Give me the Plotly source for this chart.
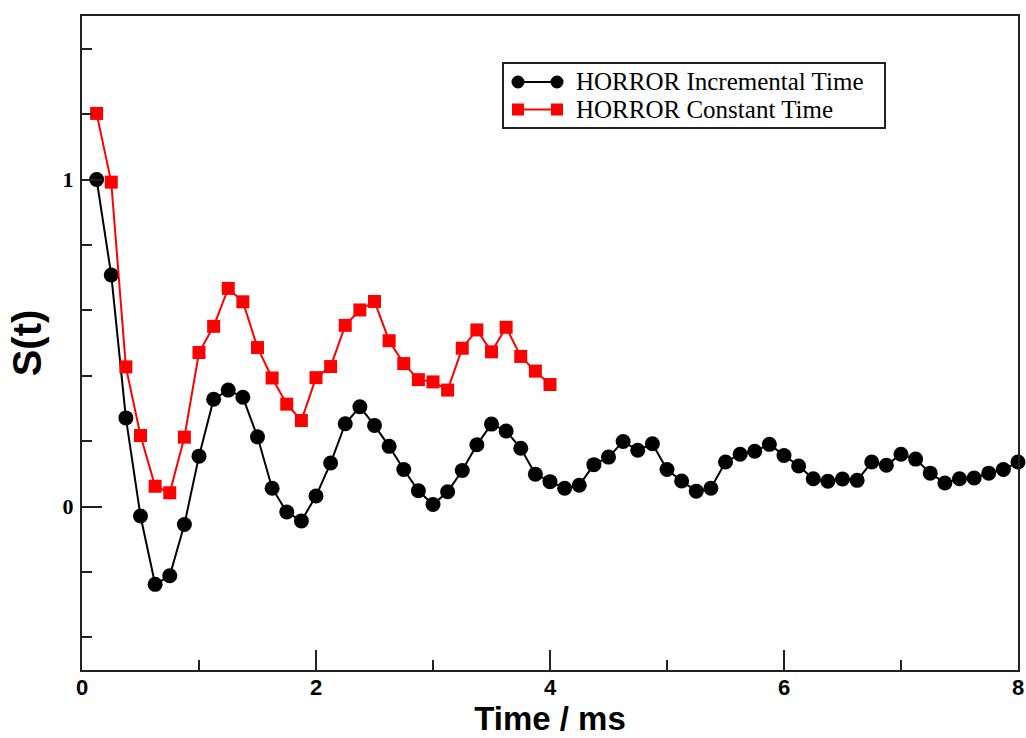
import plotly.graph_objects as go

time_incremental = [0.125, 0.25, 0.375, 0.5, 0.625, 0.75, 0.875, 1.0,
                    1.125, 1.25, 1.375, 1.5, 1.625, 1.75, 1.875, 2.0,
                    2.125, 2.25, 2.375, 2.5, 2.625, 2.75, 2.875, 3.0,
                    3.125, 3.25, 3.375, 3.5, 3.625, 3.75, 3.875, 4.0,
                    4.125, 4.25, 4.375, 4.5, 4.625, 4.75, 4.875, 5.0,
                    5.125, 5.25, 5.375, 5.5, 5.625, 5.75, 5.875, 6.0,
                    6.125, 6.25, 6.375, 6.5, 6.625, 6.75, 6.875, 7.0,
                    7.125, 7.25, 7.375, 7.5, 7.625, 7.75, 7.875, 8.0]
s_incremental = [1.000, 0.708, 0.271, -0.029, -0.238, -0.212, -0.055, 0.154,
                 0.328, 0.356, 0.334, 0.213, 0.056, -0.017, -0.044, 0.032,
                 0.133, 0.253, 0.305, 0.248, 0.184, 0.113, 0.048, 0.006,
                 0.045, 0.110, 0.189, 0.252, 0.231, 0.178, 0.099, 0.076,
                 0.056, 0.065, 0.128, 0.151, 0.199, 0.172, 0.192, 0.113,
                 0.078, 0.047, 0.056, 0.136, 0.160, 0.169, 0.190, 0.156,
                 0.124, 0.085, 0.077, 0.084, 0.080, 0.136, 0.126, 0.160,
                 0.145, 0.102, 0.072, 0.085, 0.087, 0.102, 0.113, 0.136]

time_constant = [0.125, 0.25, 0.375, 0.5, 0.625, 0.75, 0.875, 1.0,
                 1.125, 1.25, 1.375, 1.5, 1.625, 1.75, 1.875, 2.0,
                 2.125, 2.25, 2.375, 2.5, 2.625, 2.75, 2.875, 3.0,
                 3.125, 3.25, 3.375, 3.5, 3.625, 3.75, 3.875, 4.0]
s_constant = [1.202, 0.992, 0.427, 0.217, 0.062, 0.042, 0.212, 0.471,
              0.551, 0.667, 0.626, 0.486, 0.393, 0.313, 0.263, 0.394,
              0.428, 0.554, 0.601, 0.627, 0.507, 0.437, 0.388, 0.381,
              0.356, 0.484, 0.540, 0.473, 0.548, 0.459, 0.414, 0.373]

series_names = ["HORROR Incremental Time", "HORROR Constant Time"]
series_colors = ["black", "#ff0000"]
series_symbols = ["circle", "square"]
x_tick_vals = [0, 2, 4, 6, 8]
y_tick_vals = [0, 1]

W, H = 1026, 738
ML, MR, MT, MB = 82, 8, 16, 68
PW, PH = W - ML - MR, H - MT - MB


def px_x(px):
    return (px - ML) / PW


def px_y(py):
    return (H - MB - py) / PH


fig = go.Figure()
fig.add_trace(go.Scatter(
    x=time_incremental, y=s_incremental, mode="lines+markers",
    name=series_names[0], cliponaxis=False, showlegend=False,
    line=dict(color=series_colors[0], width=2),
    marker=dict(symbol=series_symbols[0], size=15, color=series_colors[0]),
))
fig.add_trace(go.Scatter(
    x=time_constant, y=s_constant, mode="lines+markers",
    name=series_names[1], cliponaxis=False, showlegend=False,
    line=dict(color=series_colors[1], width=2),
    marker=dict(symbol=series_symbols[1], size=13, color=series_colors[1]),
))

# Legend box (drawn to mimic the original: marker at both ends of a line)
shapes = [dict(type="rect", xref="paper", yref="paper",
               x0=px_x(503), x1=px_x(885), y0=px_y(128), y1=px_y(63),
               line=dict(color="#222", width=2), fillcolor="white", layer="above")]
annotations = []
row_y = [82, 109.5]
for i, name in enumerate(series_names):
    yc = px_y(row_y[i])
    shapes.append(dict(type="line", xref="paper", yref="paper",
                       x0=px_x(518), x1=px_x(557), y0=yc, y1=yc,
                       line=dict(color=series_colors[i], width=2), layer="above"))
    for xm in (518, 557):
        r = 6.5 if series_symbols[i] == "circle" else 6
        shapes.append(dict(type="circle" if series_symbols[i] == "circle" else "rect",
                           xref="paper", yref="paper",
                           xsizemode="pixel", ysizemode="pixel",
                           xanchor=px_x(xm), yanchor=yc,
                           x0=-r, x1=r, y0=-r, y1=r,
                           line=dict(color=series_colors[i], width=0),
                           fillcolor=series_colors[i], layer="above"))
    annotations.append(dict(xref="paper", yref="paper", x=px_x(574), y=yc,
                            xanchor="left", yanchor="middle", showarrow=False,
                            text=name,
                            font=dict(family="Liberation Serif", size=25, color="black")))

fig.update_layout(
    width=W, height=H,
    margin=dict(l=ML, r=MR, t=MT, b=MB, autoexpand=False),
    paper_bgcolor="white", plot_bgcolor="white",
    showlegend=False,
    shapes=shapes, annotations=annotations,
)

fig.update_xaxes(
    range=[0, 8], tickvals=x_tick_vals, ticktext=[str(v) for v in x_tick_vals],
    ticks="inside", ticklen=20, tickwidth=2, tickcolor="#222",
    minor=dict(dtick=1, tick0=0, ticks="inside", ticklen=10, tickwidth=2, tickcolor="#222"),
    showline=True, linecolor="#222", linewidth=2, mirror=True,
    showgrid=False, zeroline=False, automargin=False,
    tickfont=dict(family="Liberation Sans", size=22, color="black", weight="bold"),
    ticklabelstandoff=-3,
    title=dict(text="Time / ms", standoff=6,
               font=dict(family="Liberation Sans", size=33, color="black", weight="bold")),
)
fig.update_yaxes(
    range=[-0.5, 1.5], tickvals=y_tick_vals, ticktext=[str(v) for v in y_tick_vals],
    ticks="inside", ticklen=20, tickwidth=2, tickcolor="#222",
    minor=dict(dtick=0.2, tick0=0, ticks="inside", ticklen=10, tickwidth=2, tickcolor="#222"),
    showline=True, linecolor="#222", linewidth=2, mirror=True,
    showgrid=False, zeroline=False, automargin=False,
    tickfont=dict(family="Liberation Serif", size=22, color="black", weight="bold"),
    ticklabelstandoff=2,
    title=dict(text="S(t)", standoff=9,
               font=dict(family="Liberation Sans", size=40, color="black", weight="bold")),
)

fig.write_html("out.html", config={"displayModeBar": False},
               post_script="document.body.style.margin='0';")
